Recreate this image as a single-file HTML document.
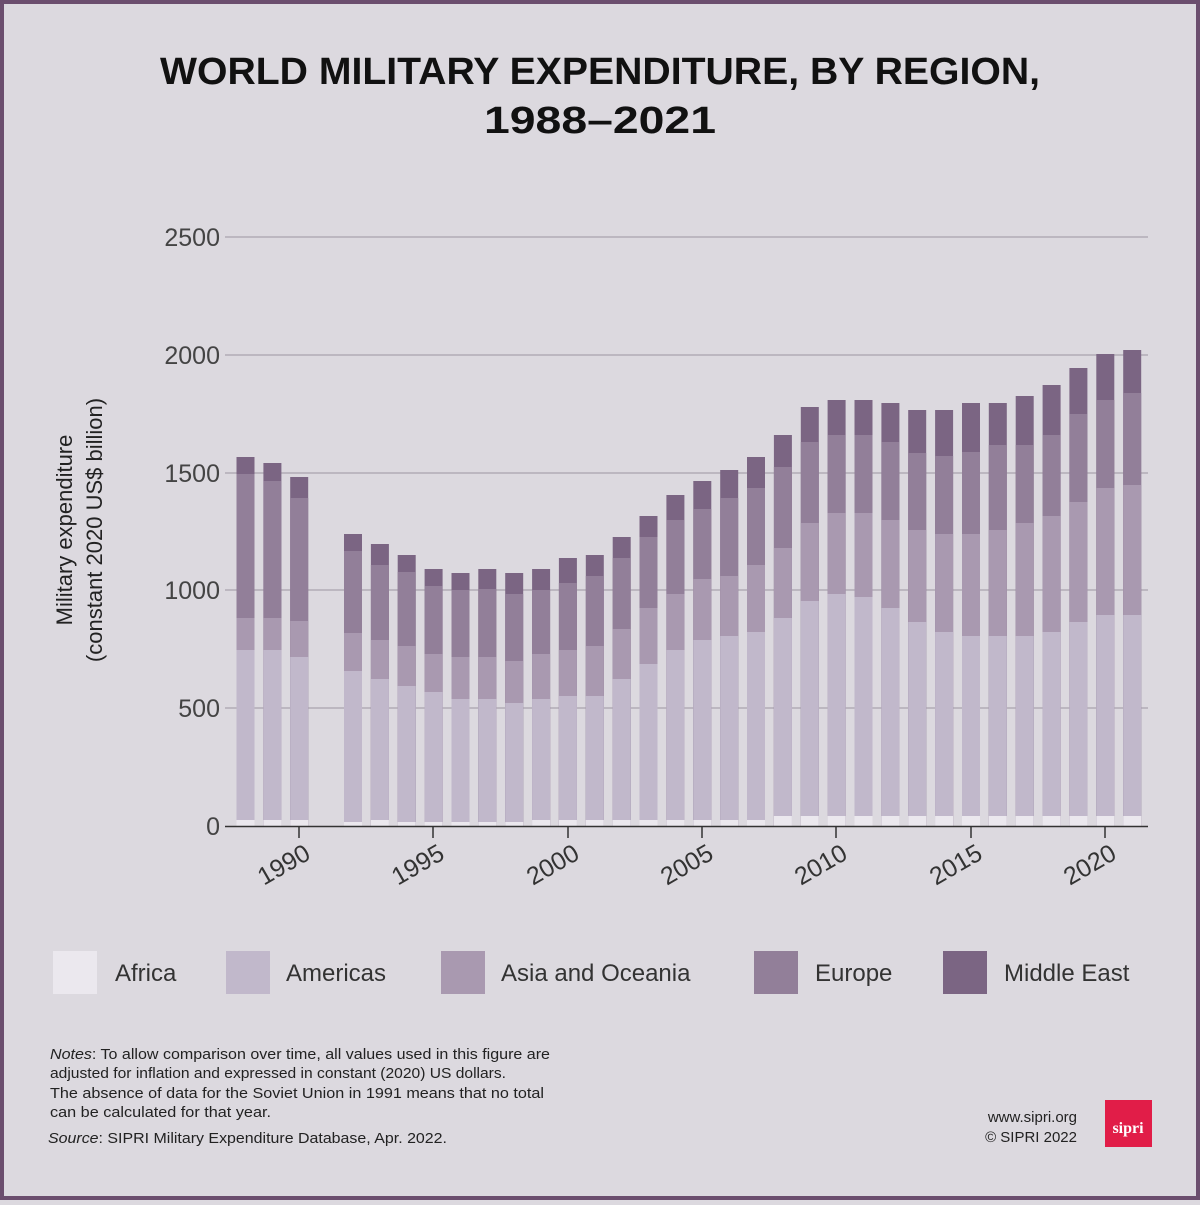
<!DOCTYPE html>
<html><head><meta charset="utf-8"><style>
html,body{margin:0;padding:0;}
body{width:1200px;height:1200px;overflow:hidden;background:#dcd9df;}
.a{fill:#ebe8ee}.b{fill:#c1b8cb}.c{fill:#a999b0}.d{fill:#927f99}.e{fill:#7b6583}
</style></head><body>
<svg width="1200" height="1200" viewBox="0 0 1200 1200" xmlns="http://www.w3.org/2000/svg" font-family="Liberation Sans, sans-serif">
<rect x="2" y="2" width="1196" height="1196" fill="#dcd9df" stroke="#6b4e6e" stroke-width="4"/>
<text x="600" y="84" text-anchor="middle" font-size="38" font-weight="bold" fill="#111" textLength="880" lengthAdjust="spacingAndGlyphs">WORLD MILITARY EXPENDITURE, BY REGION,</text>
<text x="600" y="133" text-anchor="middle" font-size="38" font-weight="bold" fill="#111" textLength="232" lengthAdjust="spacingAndGlyphs">1988–2021</text>
<g stroke="#a9a3ad" stroke-width="1.3">
<line x1="225" x2="1148" y1="237" y2="237"/><line x1="225" x2="1148" y1="355" y2="355"/><line x1="225" x2="1148" y1="473" y2="473"/><line x1="225" x2="1148" y1="590" y2="590"/><line x1="225" x2="1148" y1="708" y2="708"/>
</g>
<g font-size="25" fill="#444" text-anchor="end">
<text x="220" y="246">2500</text><text x="220" y="364">2000</text><text x="220" y="482">1500</text><text x="220" y="599">1000</text><text x="220" y="717">500</text><text x="220" y="835">0</text>
</g>
<text transform="translate(72,530) rotate(-90)" text-anchor="middle" font-size="22" fill="#222">Military expenditure</text>
<text transform="translate(102,530) rotate(-90)" text-anchor="middle" font-size="22" fill="#222">(constant 2020 US$ billion)</text>
<defs></defs>
<g>
<g transform="translate(236.5,0)"><rect class="e" y="457" width="18" height="369"/><rect class="d" y="474" width="18" height="352"/><rect class="c" y="618" width="18" height="208"/><rect class="b" y="650" width="18" height="176"/><rect class="a" y="820" width="18" height="6"/></g>
<g transform="translate(263.4,0)"><rect class="e" y="463" width="18" height="363"/><rect class="d" y="481" width="18" height="345"/><rect class="c" y="618" width="18" height="208"/><rect class="b" y="650" width="18" height="176"/><rect class="a" y="820" width="18" height="6"/></g>
<g transform="translate(290.2,0)"><rect class="e" y="477" width="18" height="349"/><rect class="d" y="498" width="18" height="328"/><rect class="c" y="621" width="18" height="205"/><rect class="b" y="657" width="18" height="169"/><rect class="a" y="820" width="18" height="6"/></g>
<g transform="translate(344.0,0)"><rect class="e" y="534" width="18" height="292"/><rect class="d" y="551" width="18" height="275"/><rect class="c" y="633" width="18" height="193"/><rect class="b" y="671" width="18" height="155"/><rect class="a" y="822" width="18" height="4"/></g>
<g transform="translate(370.9,0)"><rect class="e" y="544" width="18" height="282"/><rect class="d" y="565" width="18" height="261"/><rect class="c" y="640" width="18" height="186"/><rect class="b" y="679" width="18" height="147"/><rect class="a" y="820" width="18" height="6"/></g>
<g transform="translate(397.7,0)"><rect class="e" y="555" width="18" height="271"/><rect class="d" y="572" width="18" height="254"/><rect class="c" y="646" width="18" height="180"/><rect class="b" y="686" width="18" height="140"/><rect class="a" y="822" width="18" height="4"/></g>
<g transform="translate(424.6,0)"><rect class="e" y="569" width="18" height="257"/><rect class="d" y="586" width="18" height="240"/><rect class="c" y="654" width="18" height="172"/><rect class="b" y="692" width="18" height="134"/><rect class="a" y="822" width="18" height="4"/></g>
<g transform="translate(451.5,0)"><rect class="e" y="573" width="18" height="253"/><rect class="d" y="590" width="18" height="236"/><rect class="c" y="657" width="18" height="169"/><rect class="b" y="699" width="18" height="127"/><rect class="a" y="822" width="18" height="4"/></g>
<g transform="translate(478.3,0)"><rect class="e" y="569" width="18" height="257"/><rect class="d" y="589" width="18" height="237"/><rect class="c" y="657" width="18" height="169"/><rect class="b" y="699" width="18" height="127"/><rect class="a" y="822" width="18" height="4"/></g>
<g transform="translate(505.2,0)"><rect class="e" y="573" width="18" height="253"/><rect class="d" y="594" width="18" height="232"/><rect class="c" y="661" width="18" height="165"/><rect class="b" y="703" width="18" height="123"/><rect class="a" y="822" width="18" height="4"/></g>
<g transform="translate(532.1,0)"><rect class="e" y="569" width="18" height="257"/><rect class="d" y="590" width="18" height="236"/><rect class="c" y="654" width="18" height="172"/><rect class="b" y="699" width="18" height="127"/><rect class="a" y="820" width="18" height="6"/></g>
<g transform="translate(558.9,0)"><rect class="e" y="558" width="18" height="268"/><rect class="d" y="583" width="18" height="243"/><rect class="c" y="650" width="18" height="176"/><rect class="b" y="696" width="18" height="130"/><rect class="a" y="820" width="18" height="6"/></g>
<g transform="translate(585.8,0)"><rect class="e" y="555" width="18" height="271"/><rect class="d" y="576" width="18" height="250"/><rect class="c" y="646" width="18" height="180"/><rect class="b" y="696" width="18" height="130"/><rect class="a" y="820" width="18" height="6"/></g>
<g transform="translate(612.7,0)"><rect class="e" y="537" width="18" height="289"/><rect class="d" y="558" width="18" height="268"/><rect class="c" y="629" width="18" height="197"/><rect class="b" y="679" width="18" height="147"/><rect class="a" y="820" width="18" height="6"/></g>
<g transform="translate(639.5,0)"><rect class="e" y="516" width="18" height="310"/><rect class="d" y="537" width="18" height="289"/><rect class="c" y="608" width="18" height="218"/><rect class="b" y="664" width="18" height="162"/><rect class="a" y="820" width="18" height="6"/></g>
<g transform="translate(666.4,0)"><rect class="e" y="495" width="18" height="331"/><rect class="d" y="520" width="18" height="306"/><rect class="c" y="594" width="18" height="232"/><rect class="b" y="650" width="18" height="176"/><rect class="a" y="820" width="18" height="6"/></g>
<g transform="translate(693.3,0)"><rect class="e" y="481" width="18" height="345"/><rect class="d" y="509" width="18" height="317"/><rect class="c" y="579" width="18" height="247"/><rect class="b" y="640" width="18" height="186"/><rect class="a" y="820" width="18" height="6"/></g>
<g transform="translate(720.2,0)"><rect class="e" y="470" width="18" height="356"/><rect class="d" y="498" width="18" height="328"/><rect class="c" y="576" width="18" height="250"/><rect class="b" y="636" width="18" height="190"/><rect class="a" y="820" width="18" height="6"/></g>
<g transform="translate(747.0,0)"><rect class="e" y="457" width="18" height="369"/><rect class="d" y="488" width="18" height="338"/><rect class="c" y="565" width="18" height="261"/><rect class="b" y="632" width="18" height="194"/><rect class="a" y="820" width="18" height="6"/></g>
<g transform="translate(773.9,0)"><rect class="e" y="435" width="18" height="391"/><rect class="d" y="467" width="18" height="359"/><rect class="c" y="548" width="18" height="278"/><rect class="b" y="618" width="18" height="208"/><rect class="a" y="816" width="18" height="10"/></g>
<g transform="translate(800.8,0)"><rect class="e" y="407" width="18" height="419"/><rect class="d" y="442" width="18" height="384"/><rect class="c" y="523" width="18" height="303"/><rect class="b" y="601" width="18" height="225"/><rect class="a" y="816" width="18" height="10"/></g>
<g transform="translate(827.6,0)"><rect class="e" y="400" width="18" height="426"/><rect class="d" y="435" width="18" height="391"/><rect class="c" y="513" width="18" height="313"/><rect class="b" y="594" width="18" height="232"/><rect class="a" y="816" width="18" height="10"/></g>
<g transform="translate(854.5,0)"><rect class="e" y="400" width="18" height="426"/><rect class="d" y="435" width="18" height="391"/><rect class="c" y="513" width="18" height="313"/><rect class="b" y="597" width="18" height="229"/><rect class="a" y="816" width="18" height="10"/></g>
<g transform="translate(881.4,0)"><rect class="e" y="403" width="18" height="423"/><rect class="d" y="442" width="18" height="384"/><rect class="c" y="520" width="18" height="306"/><rect class="b" y="608" width="18" height="218"/><rect class="a" y="816" width="18" height="10"/></g>
<g transform="translate(908.2,0)"><rect class="e" y="410" width="18" height="416"/><rect class="d" y="453" width="18" height="373"/><rect class="c" y="530" width="18" height="296"/><rect class="b" y="622" width="18" height="204"/><rect class="a" y="816" width="18" height="10"/></g>
<g transform="translate(935.1,0)"><rect class="e" y="410" width="18" height="416"/><rect class="d" y="456" width="18" height="370"/><rect class="c" y="534" width="18" height="292"/><rect class="b" y="632" width="18" height="194"/><rect class="a" y="816" width="18" height="10"/></g>
<g transform="translate(962.0,0)"><rect class="e" y="403" width="18" height="423"/><rect class="d" y="452" width="18" height="374"/><rect class="c" y="534" width="18" height="292"/><rect class="b" y="636" width="18" height="190"/><rect class="a" y="816" width="18" height="10"/></g>
<g transform="translate(988.8,0)"><rect class="e" y="403" width="18" height="423"/><rect class="d" y="445" width="18" height="381"/><rect class="c" y="530" width="18" height="296"/><rect class="b" y="636" width="18" height="190"/><rect class="a" y="816" width="18" height="10"/></g>
<g transform="translate(1015.7,0)"><rect class="e" y="396" width="18" height="430"/><rect class="d" y="445" width="18" height="381"/><rect class="c" y="523" width="18" height="303"/><rect class="b" y="636" width="18" height="190"/><rect class="a" y="816" width="18" height="10"/></g>
<g transform="translate(1042.6,0)"><rect class="e" y="385" width="18" height="441"/><rect class="d" y="435" width="18" height="391"/><rect class="c" y="516" width="18" height="310"/><rect class="b" y="632" width="18" height="194"/><rect class="a" y="816" width="18" height="10"/></g>
<g transform="translate(1069.4,0)"><rect class="e" y="368" width="18" height="458"/><rect class="d" y="414" width="18" height="412"/><rect class="c" y="502" width="18" height="324"/><rect class="b" y="622" width="18" height="204"/><rect class="a" y="816" width="18" height="10"/></g>
<g transform="translate(1096.3,0)"><rect class="e" y="354" width="18" height="472"/><rect class="d" y="400" width="18" height="426"/><rect class="c" y="488" width="18" height="338"/><rect class="b" y="615" width="18" height="211"/><rect class="a" y="816" width="18" height="10"/></g>
<g transform="translate(1123.2,0)"><rect class="e" y="350" width="18" height="476"/><rect class="d" y="393" width="18" height="433"/><rect class="c" y="485" width="18" height="341"/><rect class="b" y="615" width="18" height="211"/><rect class="a" y="816" width="18" height="10"/></g>
</g>
<line x1="225" x2="1148" y1="826.5" y2="826.5" stroke="#333" stroke-width="1.5"/>
<g stroke="#333" stroke-width="1.5">
<line x1="299" x2="299" y1="826" y2="838"/><line x1="433" x2="433" y1="826" y2="838"/><line x1="568" x2="568" y1="826" y2="838"/><line x1="702" x2="702" y1="826" y2="838"/><line x1="836" x2="836" y1="826" y2="838"/><line x1="971" x2="971" y1="826" y2="838"/><line x1="1105" x2="1105" y1="826" y2="838"/>
</g>
<g font-size="25" fill="#333" text-anchor="end">
<text transform="translate(312,858) rotate(-30)">1990</text>
<text transform="translate(446,858) rotate(-30)">1995</text>
<text transform="translate(581,858) rotate(-30)">2000</text>
<text transform="translate(715,858) rotate(-30)">2005</text>
<text transform="translate(849,858) rotate(-30)">2010</text>
<text transform="translate(984,858) rotate(-30)">2015</text>
<text transform="translate(1118,858) rotate(-30)">2020</text>
</g>
<g font-size="24" fill="#333">
<rect x="53" y="951" width="44" height="43" fill="#ebe8ee"/><text x="115" y="981">Africa</text>
<rect x="226" y="951" width="44" height="43" fill="#c1b8cb"/><text x="286" y="981">Americas</text>
<rect x="441" y="951" width="44" height="43" fill="#a999b0"/><text x="501" y="981">Asia and Oceania</text>
<rect x="754" y="951" width="44" height="43" fill="#927f99"/><text x="815" y="981">Europe</text>
<rect x="943" y="951" width="44" height="43" fill="#7b6583"/><text x="1004" y="981">Middle East</text>
</g>
<g font-size="15" fill="#222">
<text x="50" y="1059" textLength="500" lengthAdjust="spacingAndGlyphs"><tspan font-style="italic">Notes</tspan>: To allow comparison over time, all values used in this figure are</text>
<text x="50" y="1078" textLength="456" lengthAdjust="spacingAndGlyphs">adjusted for inflation and expressed in constant (2020) US dollars.</text>
<text x="50" y="1098" textLength="494" lengthAdjust="spacingAndGlyphs">The absence of data for the Soviet Union in 1991 means that no total</text>
<text x="50" y="1117" textLength="221" lengthAdjust="spacingAndGlyphs">can be calculated for that year.</text>
<text x="48" y="1143" textLength="399" lengthAdjust="spacingAndGlyphs"><tspan font-style="italic">Source</tspan>: SIPRI Military Expenditure Database, Apr. 2022.</text>
<text x="1077" y="1122" text-anchor="end">www.sipri.org</text>
<text x="1077" y="1142" text-anchor="end">© SIPRI 2022</text>
</g>
<rect x="1105" y="1100" width="47" height="47" fill="#e11d48"/>
<text x="1128" y="1133" text-anchor="middle" font-family="Liberation Serif, serif" font-weight="bold" font-size="16" fill="#fff">sipri</text>
</svg>
</body></html>
